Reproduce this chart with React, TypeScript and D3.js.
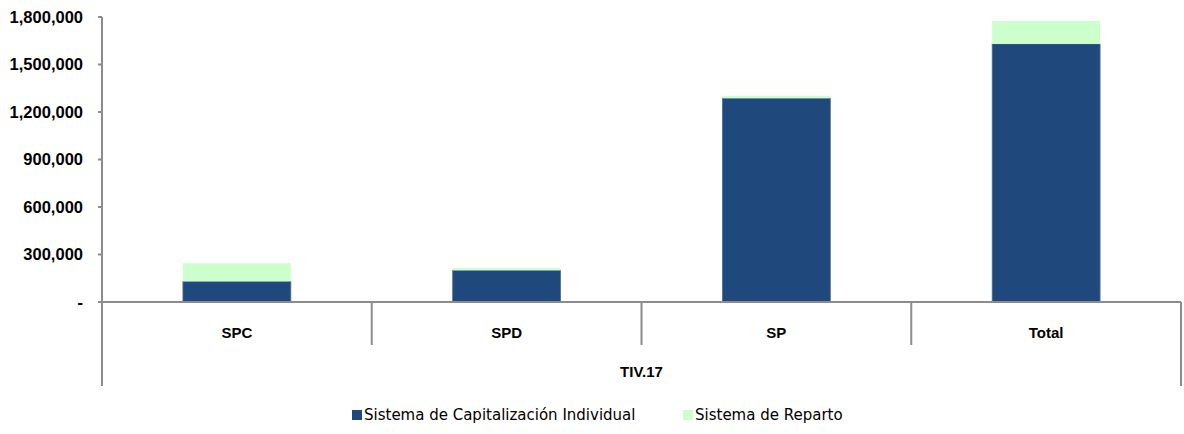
import React from "react";
import * as d3 from "d3";

const categories = ["SPC", "SPD", "SP", "Total"];
const capitalizacion = [130000, 200000, 1287000, 1630000];
const reparto = [115000, 14000, 15000, 145000];
const yTicks = [0, 300000, 600000, 900000, 1200000, 1500000, 1800000];
const groupLabel = "TIV.17";
const seriesNames = ["Sistema de Capitalización Individual", "Sistema de Reparto"];
const colors = ["#1F497D", "#CCFFCC"];

const W = 1184;
const H = 434;
const left = 102;
const right = 1181;
const top = 17;
const base = 302;

export default function App() {
  const x = d3.scaleBand<string>().domain(categories).range([left, right]).paddingInner(0).paddingOuter(0);
  const y = d3.scaleLinear().domain([0, 1800000]).range([base, top]);
  const bw = x.bandwidth() * 0.4;
  const fmt = (v: number) => (v === 0 ? "-" : d3.format(",")(v));
  const axisColor = "#8c8c8c";
  const labelFont = "'Liberation Sans', Arial, sans-serif";

  return (
    <svg width={W} height={H} style={{ position: "absolute", left: 0, top: 0, background: "#fff" }}>
      {categories.map((c, i) => {
        const cx = (x(c) as number) + x.bandwidth() / 2;
        const b0 = y(0), b1 = y(capitalizacion[i]), b2 = y(capitalizacion[i] + reparto[i]);
        return (
          <g key={c}>
            <rect x={cx - bw / 2} y={b1} width={bw} height={b0 - b1} fill={colors[0]} stroke="#4f6f98" strokeWidth={0.8} />
            <rect x={cx - bw / 2} y={b2} width={bw} height={b1 - b2} fill={colors[1]} />
          </g>
        );
      })}
      <line x1={left} x2={left} y1={top} y2={386} stroke={axisColor} strokeWidth={2} />
      {yTicks.map((t) => (
        <g key={t}>
          <line x1={left - 4} x2={left} y1={y(t)} y2={y(t)} stroke={axisColor} strokeWidth={2} />
          <text x={83} y={y(t)} dy="0.35em" textAnchor="end" fontFamily={labelFont} fontWeight="bold" fontSize={16.5} fill="#000">
            {fmt(t)}
          </text>
        </g>
      ))}
      <line x1={left - 4} x2={right} y1={base} y2={base} stroke={axisColor} strokeWidth={2} />
      {categories.slice(1).map((c) => (
        <line key={c} x1={x(c) as number} x2={x(c) as number} y1={base} y2={345} stroke={axisColor} strokeWidth={2} />
      ))}
      <line x1={right} x2={right} y1={base} y2={386} stroke={axisColor} strokeWidth={2} />
      {categories.map((c) => (
        <text key={c} x={(x(c) as number) + x.bandwidth() / 2} y={333} dy="0.35em" textAnchor="middle" fontFamily={labelFont} fontWeight="bold" fontSize={15} fill="#000">
          {c}
        </text>
      ))}
      <text x={(left + right) / 2} y={372} dy="0.35em" textAnchor="middle" fontFamily={labelFont} fontWeight="bold" fontSize={15} fill="#000">
        {groupLabel}
      </text>
      <g fontFamily="'DejaVu Sans', sans-serif" fontSize={15} fill="#000">
        <rect x={352} y={410} width={10} height={10} fill={colors[0]} />
        <text x={364} y={415} dy="0.35em">{seriesNames[0]}</text>
        <rect x={683} y={410} width={10} height={10} fill={colors[1]} />
        <text x={695} y={415} dy="0.35em">{seriesNames[1]}</text>
      </g>
    </svg>
  );
}
